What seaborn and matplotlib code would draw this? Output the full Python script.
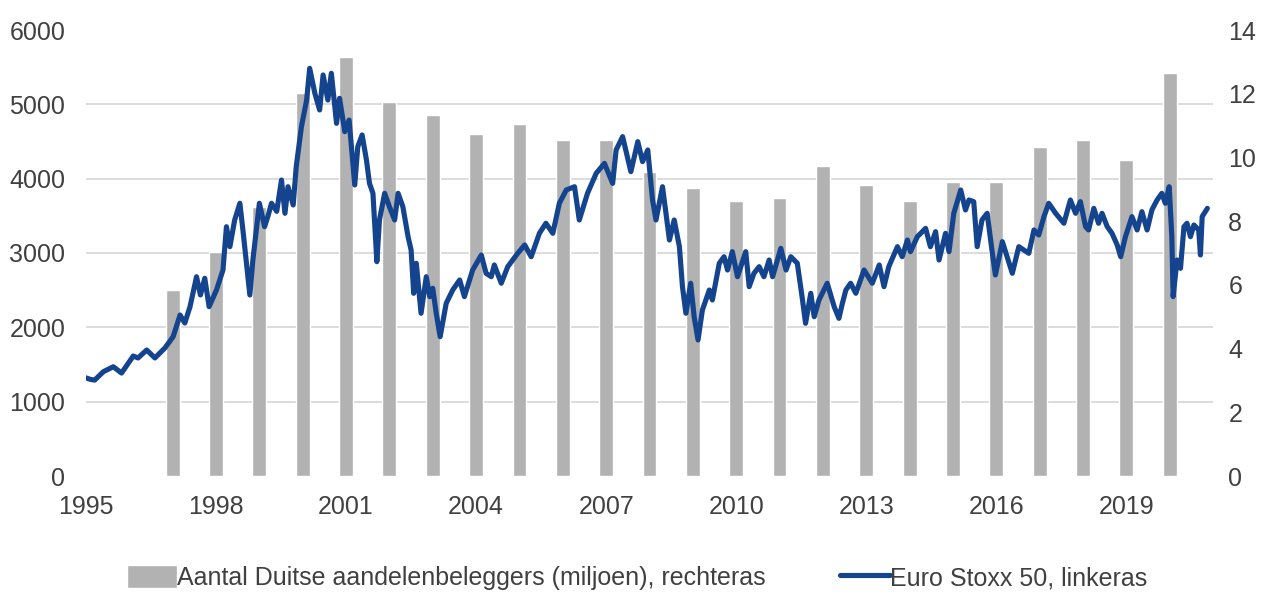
import numpy as np
import pandas as pd
import matplotlib
matplotlib.use("Agg")
import matplotlib.pyplot as plt
import seaborn as sns

# ---------------- data ----------------
bar_years = [1997, 1998, 1999, 2000, 2001, 2002, 2003, 2004, 2005, 2006, 2007, 2008,
             2009, 2010, 2011, 2012, 2013, 2014, 2015, 2016, 2017, 2018, 2019, 2020]
bar_values = [5.84, 7.04, 8.45, 12.03, 13.14, 11.75, 11.33, 10.74, 11.05, 10.55, 10.55, 9.55,
              9.05, 8.64, 8.74, 9.73, 9.13, 8.63, 9.23, 9.23, 10.33, 10.54, 9.92, 12.65]

stoxx_t = [1995.00, 1995.10, 1995.20, 1995.40, 1995.63, 1995.82, 1996.09, 1996.20, 1996.40, 1996.59,
           1996.82, 1997.01, 1997.17, 1997.28, 1997.40, 1997.55, 1997.64, 1997.74, 1997.84, 1998.01,
           1998.16, 1998.24, 1998.32, 1998.43, 1998.55, 1998.62, 1998.78, 1998.85, 1999.00, 1999.12,
           1999.20, 1999.28, 1999.40, 1999.51, 1999.59, 1999.66, 1999.78, 1999.85, 1999.97, 2000.09,
           2000.16, 2000.28, 2000.39, 2000.47, 2000.58, 2000.66, 2000.78, 2000.85, 2000.97, 2001.07,
           2001.20, 2001.27, 2001.37, 2001.47, 2001.54, 2001.62, 2001.71, 2001.77, 2001.89, 2002.00,
           2002.12, 2002.20, 2002.31, 2002.43, 2002.50, 2002.56, 2002.62, 2002.73, 2002.85, 2002.93,
           2003.00, 2003.08, 2003.17, 2003.31, 2003.46, 2003.62, 2003.73, 2003.92, 2004.12, 2004.23,
           2004.35, 2004.42, 2004.58, 2004.73, 2004.96, 2005.12, 2005.27, 2005.46, 2005.61, 2005.77,
           2005.92, 2006.08, 2006.27, 2006.38, 2006.57, 2006.77, 2006.96, 2007.15, 2007.23, 2007.38,
           2007.57, 2007.73, 2007.84, 2007.96, 2008.07, 2008.15, 2008.30, 2008.46, 2008.57, 2008.69,
           2008.76, 2008.84, 2008.95, 2009.03, 2009.12, 2009.22, 2009.38, 2009.45, 2009.61, 2009.72,
           2009.80, 2009.91, 2010.03, 2010.22, 2010.30, 2010.41, 2010.53, 2010.64, 2010.76, 2010.84,
           2011.03, 2011.15, 2011.26, 2011.41, 2011.53, 2011.60, 2011.72, 2011.80, 2011.91, 2012.10,
           2012.26, 2012.37, 2012.45, 2012.53, 2012.64, 2012.76, 2012.95, 2013.14, 2013.30, 2013.41,
           2013.52, 2013.72, 2013.83, 2013.95, 2014.02, 2014.18, 2014.37, 2014.48, 2014.60, 2014.68,
           2014.83, 2014.91, 2015.02, 2015.18, 2015.29, 2015.37, 2015.48, 2015.56, 2015.67, 2015.79,
           2015.90, 2015.98, 2016.14, 2016.25, 2016.37, 2016.52, 2016.75, 2016.87, 2016.98, 2017.10,
           2017.21, 2017.37, 2017.56, 2017.71, 2017.83, 2017.94, 2018.06, 2018.13, 2018.25, 2018.36,
           2018.44, 2018.56, 2018.67, 2018.79, 2018.87, 2018.98, 2019.13, 2019.25, 2019.36, 2019.48,
           2019.59, 2019.71, 2019.82, 2019.90, 2019.99, 2020.05, 2020.08, 2020.17, 2020.25, 2020.33,
           2020.40, 2020.48, 2020.56, 2020.67, 2020.71, 2020.75, 2020.87]
stoxx_v = [1320, 1300, 1290, 1403, 1470, 1385, 1614, 1588, 1695, 1588,
           1722, 1874, 2166, 2058, 2278, 2681, 2435, 2660, 2278, 2502,
           2771, 3354, 3085, 3444, 3669, 3310, 2435, 2906, 3669, 3354,
           3500, 3669, 3560, 3982, 3534, 3892, 3646, 4161, 4699, 5058,
           5485, 5148, 4924, 5395, 5058, 5418, 4744, 5081, 4632, 4789,
           3915, 4430, 4588, 4251, 3937, 3803, 2883, 3444, 3803, 3623,
           3444, 3803, 3623, 3220, 3040, 2458, 2862, 2189, 2681, 2413,
           2525, 2189, 1874, 2323, 2502, 2637, 2413, 2771, 2973, 2727,
           2681, 2839, 2593, 2816, 2996, 3108, 2950, 3265, 3400, 3265,
           3669, 3848, 3892, 3444, 3803, 4072, 4206, 3937, 4386, 4565,
           4094, 4498, 4229, 4386, 3713, 3444, 3892, 3175, 3444, 3085,
           2547, 2189, 2593, 2143, 1830, 2233, 2502, 2368, 2862, 2950,
           2771, 3018, 2681, 3018, 2547, 2727, 2816, 2681, 2906, 2681,
           3063, 2771, 2950, 2862, 2368, 2054, 2458, 2143, 2368, 2593,
           2278, 2121, 2323, 2502, 2593, 2458, 2771, 2593, 2839, 2547,
           2816, 3085, 2950, 3175, 3018, 3220, 3332, 3085, 3287, 2906,
           3265, 3018, 3534, 3848, 3579, 3713, 3691, 3085, 3444, 3534,
           3040, 2704, 3153, 2950, 2727, 3085, 2996, 3310, 3242, 3489,
           3669, 3534, 3400, 3713, 3534, 3691, 3354, 3310, 3601, 3400,
           3534, 3354, 3265, 3108, 2950, 3220, 3489, 3310, 3556, 3310,
           3579, 3713, 3803, 3669, 3892, 3220, 2413, 2906, 2794, 3354,
           3400, 3220, 3377, 3310, 2973, 3489, 3601]

x_ticks = [1995, 1998, 2001, 2004, 2007, 2010, 2013, 2016, 2019]
left_ticks = [0, 1000, 2000, 3000, 4000, 5000, 6000]
right_ticks = [0, 2, 4, 6, 8, 10, 12, 14]

bar_label = "Aantal Duitse aandelenbeleggers (miljoen), rechteras"
line_label = "Euro Stoxx 50, linkeras"

# ---------------- style ----------------
sns.set_theme(style="white")
plt.rcParams["font.family"] = ["Liberation Sans", "DejaVu Sans"]
TXT = "#404040"
FS = 18

fig = plt.figure(figsize=(12.74, 6.12), dpi=100)
ax = fig.add_axes([86 / 1274, 1 - 476 / 612, (1213 - 86) / 1274, (476 - 30) / 612])
ax2 = ax.twinx()

bars_df = pd.DataFrame({"year": bar_years, "value": bar_values})
line_df = pd.DataFrame({"t": stoxx_t, "v": stoxx_v})

sns.barplot(data=bars_df, x="year", y="value", native_scale=True, width=0.32,
            color="#B2B2B2", saturation=1, errorbar=None, ax=ax2, label=bar_label)
sns.lineplot(data=line_df, x="t", y="v", estimator=None, color="#15448E", lw=3.7,
             ax=ax, label=line_label, solid_joinstyle="round", solid_capstyle="round")

for a in (ax, ax2):
    lg = a.get_legend()
    if lg is not None:
        lg.remove()
    for s in a.spines.values():
        s.set_visible(False)
    a.set_xlabel("")
    a.set_ylabel("")

ax.set_zorder(ax2.get_zorder() + 1)
ax.patch.set_visible(False)

ax.set_xlim(1995, 2021)
ax.set_ylim(0, 6000)
ax2.set_ylim(0, 14)

ax.set_xticks(x_ticks)
ax.set_xticklabels([str(t) for t in x_ticks])
ax.set_yticks(left_ticks)
ax.set_yticklabels([str(t) for t in left_ticks])
ax2.set_yticks(right_ticks)
ax2.set_yticklabels([str(t) for t in right_ticks])

ax.grid(False)
ax2.grid(False)
ax2.set_yticks(np.linspace(0, 14, 7), minor=True)
ax2.grid(which="minor", axis="y", color="#D9D9D9", lw=1.3)
ax2.set_axisbelow(True)

ax.tick_params(axis="x", length=0, pad=14, labelsize=FS, labelcolor=TXT)
ax.tick_params(axis="y", length=0, pad=15, labelsize=FS, labelcolor=TXT)
ax2.tick_params(axis="y", which="both", length=0, pad=11, labelsize=FS, labelcolor=TXT)

h1, l1 = ax2.get_legend_handles_labels()
h2, l2 = ax.get_legend_handles_labels()
leg = fig.legend(h1 + h2, l1 + l2, loc="center", bbox_to_anchor=(0.5, 0.056), ncol=2,
                 frameon=False, fontsize=FS, handlelength=2.0, handleheight=1.0,
                 handletextpad=0.0, columnspacing=3.0)
for t in leg.get_texts():
    t.set_color(TXT)

fig.savefig("out.png", dpi=100, facecolor="white")
